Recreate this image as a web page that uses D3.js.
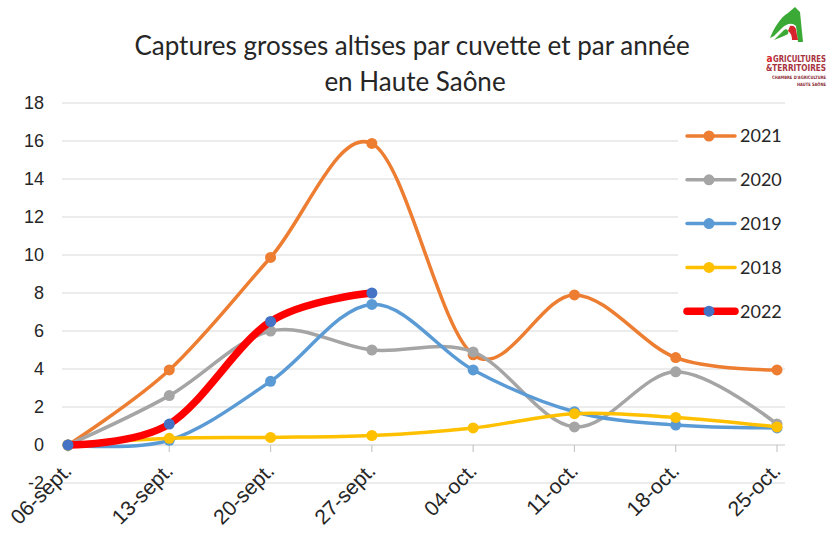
<!DOCTYPE html>
<html>
<head>
<meta charset="utf-8">
<script src="https://cdn.jsdelivr.net/npm/d3@7"></script>
<style>
  body { margin: 0; background: #fff; }
  svg { display: block; }
</style>
</head>
<body>
<svg id="fig" width="833" height="550"></svg>
<script>
// data
const dates = ["06-sept.", "13-sept.", "20-sept.", "27-sept.", "04-oct.", "11-oct.", "18-oct.", "25-oct."];
const y2021 = [0, 3.95, 9.87, 15.87, 4.75, 7.9, 4.6, 3.95];
const y2020 = [0, 2.6, 6.0, 5.0, 4.9, 0.95, 3.85, 1.1];
const y2019 = [0, 0.25, 3.35, 7.4, 3.95, 1.75, 1.05, 0.9];
const y2018 = [0, 0.35, 0.4, 0.5, 0.9, 1.65, 1.45, 0.95];
const y2022 = [0, 1.1, 6.5, 8.0];
const yTicks = [-2, 0, 2, 4, 6, 8, 10, 12, 14, 16, 18];

const series = [
    {name: "2021", values: y2021, color: "#ED7D31", marker: "#ED7D31", width: 3.5},
    {name: "2020", values: y2020, color: "#A5A5A5", marker: "#A5A5A5", width: 3.5},
    {name: "2019", values: y2019, color: "#5B9BD5", marker: "#5B9BD5", width: 3.5},
    {name: "2018", values: y2018, color: "#FFC000", marker: "#FFC000", width: 3.5},
    {name: "2022", values: y2022, color: "#FF0000", marker: "#4472C4", width: 7.5}
];

const svg = d3.select("#fig");

const xScale = d3.scalePoint().domain(dates).range([68, 777]);
const yScale = d3.scaleLinear().domain([-2, 18]).range([483, 103]);
const gridLeft = 62, gridRight = 785;

// gridlines
svg.append("g")
    .selectAll("line")
    .data(yTicks)
    .join("line")
    .attr("x1", gridLeft)
    .attr("x2", gridRight)
    .attr("y1", d => yScale(d))
    .attr("y2", d => yScale(d))
    .attr("stroke", d => d === 0 ? "#c8c8c8" : "#d9d9d9")
    .attr("stroke-width", 1.2);

// x tick marks on the zero line
svg.append("g")
    .selectAll("line")
    .data(dates)
    .join("line")
    .attr("x1", d => xScale(d))
    .attr("x2", d => xScale(d))
    .attr("y1", yScale(0))
    .attr("y2", yScale(0) + 7)
    .attr("stroke", "#c8c8c8")
    .attr("stroke-width", 1.2);

// y labels
svg.append("g")
    .selectAll("text")
    .data(yTicks)
    .join("text")
    .attr("x", 44)
    .attr("y", d => yScale(d))
    .attr("dy", "0.35em")
    .attr("text-anchor", "end")
    .style("font-family", "'Liberation Sans', Arial, sans-serif")
    .style("font-size", "18px")
    .style("fill", "#262626")
    .text(d => d);

// x labels, rotated
svg.append("g")
    .selectAll("text")
    .data(dates)
    .join("text")
    .attr("transform", d => `translate(${xScale(d) + 5},472) rotate(-45)`)
    .attr("text-anchor", "end")
    .style("font-family", "'Liberation Sans', Arial, sans-serif")
    .style("font-size", "21px")
    .style("fill", "#262626")
    .text(d => d);

// lines + markers
const line = d3.line()
    .x((d, i) => xScale(dates[i]))
    .y(d => yScale(d))
    .curve(d3.curveCardinal.tension(0));

series.forEach(s => {
    svg.append("path")
        .datum(s.values)
        .attr("d", line)
        .attr("fill", "none")
        .attr("stroke", s.color)
        .attr("stroke-width", s.width)
        .attr("stroke-linecap", "round")
        .attr("stroke-linejoin", "round");
    svg.append("g")
        .selectAll("circle")
        .data(s.values)
        .join("circle")
        .attr("cx", (d, i) => xScale(dates[i]))
        .attr("cy", d => yScale(d))
        .attr("r", 5.5)
        .attr("fill", s.marker);
});

// legend (white box hides the gridlines behind it)
svg.append("rect")
    .attr("x", 678).attr("y", 114)
    .attr("width", 155).attr("height", 224)
    .attr("fill", "#fff");

const legend = svg.append("g")
    .selectAll("g")
    .data(series)
    .join("g")
    .attr("transform", (d, i) => `translate(0,${136 + i * 43.8})`);
legend.append("line")
    .attr("x1", 687).attr("x2", 735)
    .attr("stroke", d => d.color)
    .attr("stroke-width", d => d.width)
    .attr("stroke-linecap", "round");
legend.append("circle")
    .attr("cx", 709)
    .attr("r", 5.5)
    .attr("fill", d => d.marker);
legend.append("text")
    .attr("x", 740)
    .attr("dy", "0.35em")
    .style("font-family", "Lato, 'Noto Sans', sans-serif")
    .style("font-size", "18px")
    .style("fill", "#262626")
    .text(d => d.name);

// title
const title = svg.append("text")
    .attr("text-anchor", "middle")
    .style("font-family", "Lato, 'Noto Sans', sans-serif")
    .style("font-size", "26px")
    .style("fill", "#262626");
title.append("tspan").attr("x", 412).attr("y", 55).text("Captures grosses altises par cuvette et par année");
title.append("tspan").attr("x", 415).attr("y", 91).text("en Haute Saône");

// logo, top right
const logo = svg.append("g").attr("transform", "translate(762,6)");
logo.append("path")
    .attr("d", "M33,1 L38,6 L41,36 L36,36 L34,20 C30,16 24,18 20,22 L12,30 L8,32 C12,22 18,12 26,7 Z")
    .attr("fill", "#3aa935");
logo.append("path")
    .attr("d", "M28,20 C31,19 34,21 34,24 L36,34 L30,34 C30,30 29,27 26,25 Z")
    .attr("fill", "#d7262b");
logo.append("path")
    .attr("d", "M12,34 L22,24 C25,22 27,25 26,28 L22,30 Z")
    .attr("fill", "#3aa935");
const logoText = [
    {t: "GRICULTURES", y: 62, size: 8.5, len: 53, color: "#a8323e"},
    {t: "&TERRITOIRES", y: 71, size: 8.5, len: 60, color: "#a8323e"},
    {t: "CHAMBRE D'AGRICULTURE", y: 79, size: 4.6, len: 54, color: "#8c2a33"},
    {t: "HAUTE SAÔNE", y: 86, size: 4.6, len: 29, color: "#8c2a33"}
];
logo.selectAll("text.l")
    .data(logoText)
    .join("text")
    .attr("class", "l")
    .attr("x", 64)
    .attr("y", d => d.y - 6)
    .attr("text-anchor", "end")
    .attr("textLength", d => d.len)
    .attr("lengthAdjust", "spacingAndGlyphs")
    .style("font-family", "'DejaVu Sans Condensed', 'Liberation Sans Narrow', sans-serif")
    .style("font-size", d => d.size + "px")
    .style("font-weight", "bold")
    .style("fill", d => d.color)
    .text(d => d.t);
// the big red "a" in front of GRICULTURES
logo.append("text")
    .attr("x", 4.5)
    .attr("y", 56)
    .style("font-family", "'DejaVu Sans Condensed', sans-serif")
    .style("font-size", "10px")
    .style("font-weight", "bold")
    .style("fill", "#d7262b")
    .text("a");
</script>
</body>
</html>
